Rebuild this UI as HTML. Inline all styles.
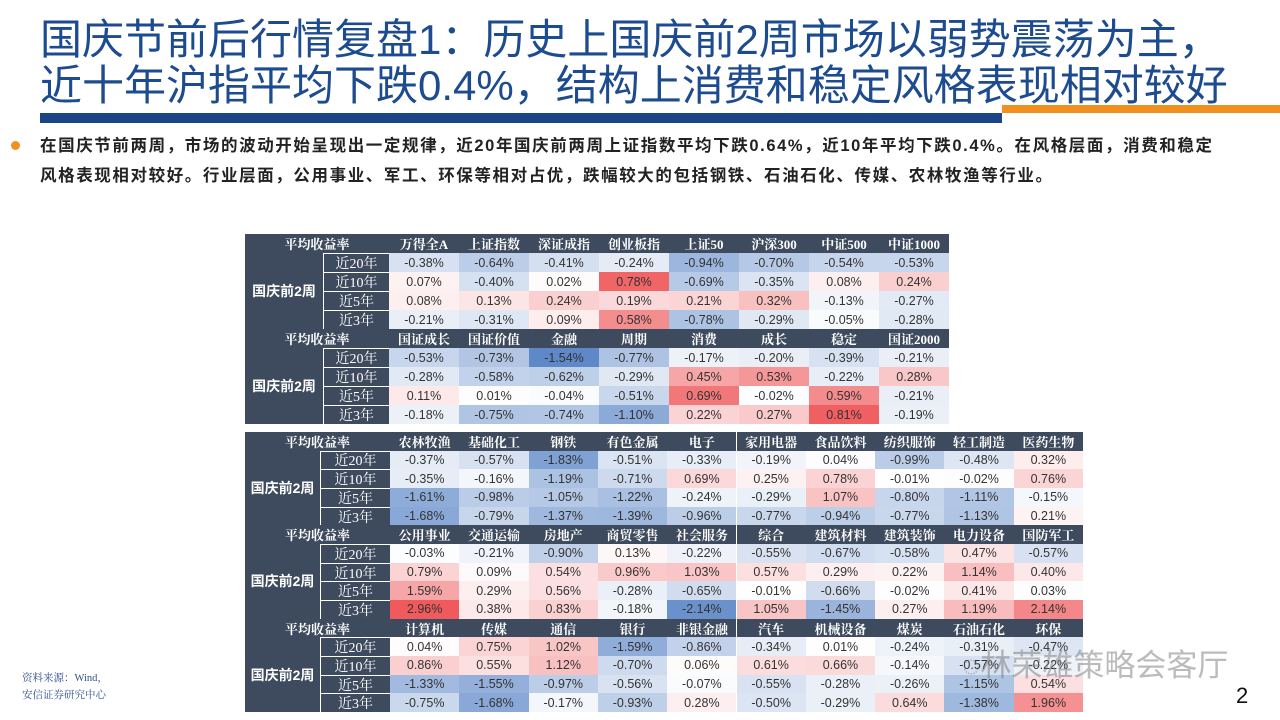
<!DOCTYPE html>
<html><head><meta charset="utf-8">
<style>
body{margin:0;width:1280px;height:720px;overflow:hidden;background:#fff;font-family:"Liberation Sans","Noto Sans CJK SC",sans-serif;position:relative}
.abs{position:absolute}
.title{left:40px;top:17px;font-size:42px;line-height:46px;color:#1d4b8f;font-family:"Liberation Sans","Noto Sans CJK SC",sans-serif;white-space:nowrap}
.bar1{left:40px;top:113px;width:962px;height:10px;background:#1c4587}
.bar2{left:1002px;top:105px;width:278px;height:8px;background:#f0901e}
.dot{left:11px;top:141px;width:9px;height:9px;border-radius:50%;background:#f0901e}
.txt{left:40px;top:131px;font-size:16.5px;line-height:30px;font-weight:bold;color:#222;white-space:nowrap;letter-spacing:1.6px;font-family:"Liberation Sans","Noto Sans CJK SC",sans-serif}
.c{position:absolute;box-sizing:border-box;display:flex;align-items:center;justify-content:center;white-space:nowrap;overflow:hidden}
.h{background:#3e4b5e;color:#fff;font-weight:bold;font-family:"Liberation Serif","Noto Serif CJK SC",serif;font-size:13px}
.y{background:#3e4b5e;color:#fff;font-family:"Liberation Serif","Noto Serif CJK SC",serif;font-size:14px;border-top:1px solid #fff;border-left:1px solid #fff}
.g{background:#3e4b5e;color:#fff;font-weight:bold;font-size:14px}
.v{font-size:12.5px;color:#333;font-family:"Liberation Sans Narrow","Liberation Sans",sans-serif}
.src{left:22px;top:670px;font-size:10.5px;line-height:17px;color:#2f4f8f;font-family:"Liberation Serif","Noto Serif CJK SC",serif}
.wm{left:962px;top:640px;font-size:31px;color:rgba(120,120,120,0.5);white-space:nowrap}
.pg{left:1236px;top:683px;font-size:22px;color:#111}
</style></head><body>
<div class="abs title">国庆节前后行情复盘1：历史上国庆前2周市场以弱势震荡为主，<br>近十年沪指平均下跌0.4%，结构上消费和稳定风格表现相对较好</div>
<div class="abs bar1"></div>
<div class="abs bar2"></div>
<div class="abs dot"></div>
<div class="abs txt">在国庆节前两周，市场的波动开始呈现出一定规律，近20年国庆前两周上证指数平均下跌0.64%，近10年平均下跌0.4%。在风格层面，消费和稳定<br>风格表现相对较好。行业层面，公用事业、军工、环保等相对占优，跌幅较大的包括钢铁、石油石化、传媒、农林牧渔等行业。</div>
<div id="t1" class="abs" style="left:0;top:0"></div>
<div id="t2" class="abs" style="left:0;top:0"></div>
<div class="abs src">资料来源：Wind，<br>安信证券研究中心</div>
<div class="abs wm">◌林荣雄策略会客厅</div>
<div class="abs pg">2</div>
<script>
const years=["近20年","近10年","近5年","近3年"];
const cats1a=["万得全A","上证指数","深证成指","创业板指","上证50","沪深300","中证500","中证1000"];
const vals1a=[[-0.38,-0.64,-0.41,-0.24,-0.94,-0.70,-0.54,-0.53],[0.07,-0.40,0.02,0.78,-0.69,-0.35,0.08,0.24],[0.08,0.13,0.24,0.19,0.21,0.32,-0.13,-0.27],[-0.21,-0.31,0.09,0.58,-0.78,-0.29,-0.05,-0.28]];
const cats1b=["国证成长","国证价值","金融","周期","消费","成长","稳定","国证2000"];
const vals1b=[[-0.53,-0.73,-1.54,-0.77,-0.17,-0.20,-0.39,-0.21],[-0.28,-0.58,-0.62,-0.29,0.45,0.53,-0.22,0.28],[0.11,0.01,-0.04,-0.51,0.69,-0.02,0.59,-0.21],[-0.18,-0.75,-0.74,-1.10,0.22,0.27,0.81,-0.19]];
const cats2a=["农林牧渔","基础化工","钢铁","有色金属","电子","家用电器","食品饮料","纺织服饰","轻工制造","医药生物"];
const vals2a=[[-0.37,-0.57,-1.83,-0.51,-0.33,-0.19,0.04,-0.99,-0.48,0.32],[-0.35,-0.16,-1.19,-0.71,0.69,0.25,0.78,-0.01,-0.02,0.76],[-1.61,-0.98,-1.05,-1.22,-0.24,-0.29,1.07,-0.80,-1.11,-0.15],[-1.68,-0.79,-1.37,-1.39,-0.96,-0.77,-0.94,-0.77,-1.13,0.21]];
const cats2b=["公用事业","交通运输","房地产","商贸零售","社会服务","综合","建筑材料","建筑装饰","电力设备","国防军工"];
const vals2b=[[-0.03,-0.21,-0.90,0.13,-0.22,-0.55,-0.67,-0.58,0.47,-0.57],[0.79,0.09,0.54,0.96,1.03,0.57,0.29,0.22,1.14,0.40],[1.59,0.29,0.56,-0.28,-0.65,-0.01,-0.66,-0.02,0.41,0.03],[2.96,0.38,0.83,-0.18,-2.14,1.05,-1.45,0.27,1.19,2.14]];
const cats2c=["计算机","传媒","通信","银行","非银金融","汽车","机械设备","煤炭","石油石化","环保"];
const vals2c=[[0.04,0.75,1.02,-1.59,-0.86,-0.34,0.01,-0.24,-0.31,-0.47],[0.86,0.55,1.12,-0.70,0.06,0.61,0.66,-0.14,-0.57,-0.22],[-1.33,-1.55,-0.97,-0.56,-0.07,-0.55,-0.28,-0.26,-1.15,0.54],[-0.75,-1.68,-0.17,-0.93,0.28,-0.50,-0.29,0.64,-1.38,1.96]];

function color(v,pmax,nmax){
  let r,g,b,t;
  if(v>=0){t=Math.min(v/pmax,1);r=255-(255-240)*t;g=255-(255-88)*t;b=255-(255-90)*t;}
  else{t=Math.min(-v/nmax,1);r=255-(255-88)*t;g=255-(255-132)*t;b=255-(255-198)*t;}
  return `rgb(${r|0},${g|0},${b|0})`;
}
function cell(parent,cls,x,y,w,h,text,bg){
  const d=document.createElement('div');
  d.className='c '+cls;
  d.style.left=x+'px';d.style.top=y+'px';d.style.width=w+'px';d.style.height=h+'px';
  if(bg)d.style.background=bg;
  d.textContent=text;
  parent.appendChild(d);
  return d;
}
function block(parent,x0,y0,gw,yw,cw,rh,cats,vals,pmax,nmax){
  const hd=cell(parent,'h',x0,y0,gw+yw,rh,'平均收益率');
  
  
  cats.forEach((c,i)=>{
    const e=cell(parent,'h',x0+gw+yw+i*cw,y0,cw,rh,c);
    
    
  });
  const g=cell(parent,'g',x0,y0+rh,gw,rh*4,'国庆前2周');
  
  
  years.forEach((yl,r)=>{
    const e=cell(parent,'y',x0+gw,y0+rh*(r+1),yw,rh,yl);
    
    
    vals[r].forEach((v,i)=>{
      const m=cell(parent,'v',x0+gw+yw+i*cw,y0+rh*(r+1),cw,rh,v.toFixed(2)+'%',color(v,pmax,nmax));
      
      
    });
  });
}
const t1=document.getElementById('t1'),t2=document.getElementById('t2');
block(t1,245,234,78,66,70,19,cats1a,vals1a,0.85,1.6);
block(t1,245,329,78,66,70,19,cats1b,vals1b,0.85,1.6);
block(t2,245,432,75,70,69.3,18.67,cats2a,vals2a,3.0,2.4);
block(t2,245,432+18.67*5,75,70,69.3,18.67,cats2b,vals2b,3.0,2.4);
block(t2,245,432+18.67*10,75,70,69.3,18.67,cats2c,vals2c,3.0,2.4);
</script>
</body></html>
